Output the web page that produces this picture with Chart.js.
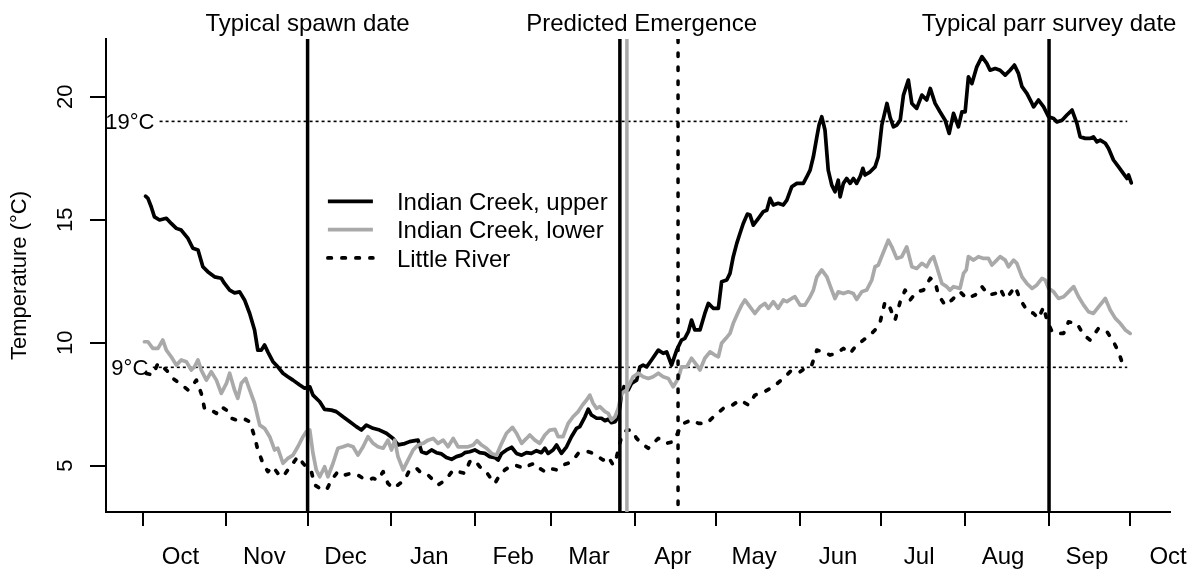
<!DOCTYPE html>
<html>
<head>
<meta charset="utf-8">
<title>Stream temperature, Oct – Sep</title>
<script src="https://cdn.jsdelivr.net/npm/chart.js@4.4.1/dist/chart.umd.min.js"></script>
<style>
  html, body { margin: 0; padding: 0; background: #fff; }
  #wrap { width: 1193px; height: 574px; }
</style>
</head>
<body>
<div id="wrap"><canvas id="chart" width="1193" height="574"></canvas></div>
<script>
// Day 0 = 1 October; each series is a list of [day, temperature °C] pairs.
const upperCreek = [
  [1.1,15.96],[2.0,15.87],[3.2,15.53],[4.4,15.12],[6.3,14.99],[8.8,15.06],[10.6,14.85],[12.5,14.65],[14.3,14.58],[16.8,14.24],
  [18.6,13.84],[20.5,13.77],[22.3,13.09],[24.1,12.89],[26.6,12.68],[29.1,12.62],[30.3,12.41],[32.2,12.14],[34.0,12.03],[35.9,12.07],
  [37.7,11.74],[39.6,11.19],[41.4,10.52],[42.6,9.70],[43.9,9.70],[45.1,9.91],[46.3,9.63],[48.2,9.23],[50.0,9.02],[51.9,8.76],
  [53.7,8.62],[55.6,8.48],[58.1,8.28],[59.9,8.15],[61.8,8.21],[63.0,7.87],[65.5,7.60],[67.3,7.29],[69.8,7.26],[71.6,7.20],
  [74.1,6.99],[76.6,6.79],[79.0,6.59],[80.9,6.45],[82.7,6.65],[85.2,6.52],[87.6,6.45],[90.1,6.32],[92.6,6.11],[94.4,5.85],
  [96.9,5.90],[98.7,5.98],[100.6,6.02],[101.8,6.04],[103.1,5.57],[104.9,5.50],[106.8,5.64],[108.6,5.53],[110.5,5.48],[112.3,5.33],
  [114.2,5.26],[116.0,5.37],[117.9,5.43],[119.1,5.53],[120.9,5.57],[122.8,5.64],[124.6,5.53],[126.5,5.50],[128.3,5.37],[130.2,5.33],
  [131.4,5.23],[132.7,5.50],[134.5,5.64],[136.4,5.75],[138.2,5.50],[140.1,5.43],[141.9,5.53],[143.7,5.50],[145.6,5.61],[147.4,5.53],
  [148.7,5.71],[149.9,5.50],[151.7,5.64],[153.0,5.84],[154.8,5.50],[156.7,5.77],[158.5,6.18],[160.4,6.52],[161.6,6.59],[163.5,6.99],
  [164.7,7.30],[165.9,7.06],[167.8,6.93],[169.6,6.93],[170.9,6.83],[172.1,6.89],[173.3,6.75],[174.6,6.79],[175.8,6.99],[176.4,7.40],
  [177.0,7.94],[177.9,8.21],[179.5,8.08],[180.7,8.35],[182.6,8.48],[183.8,9.02],[185.0,9.09],[186.3,9.02],[188.1,9.30],[190.6,9.70],
  [192.4,9.57],[193.7,9.63],[195.5,9.09],[197.4,9.70],[199.2,10.11],[200.4,10.18],[201.7,10.45],[202.9,10.92],[204.1,10.52],[206.0,10.52],
  [207.8,11.19],[209.1,11.60],[210.9,11.40],[212.8,11.40],[214.0,12.48],[215.9,12.55],[217.1,12.82],[218.3,13.50],[219.6,14.04],[220.8,14.45],
  [222.0,14.85],[223.5,15.23],[224.5,15.19],[225.7,14.78],[227.6,15.06],[229.4,15.33],[230.7,15.39],[231.9,15.87],[233.1,15.60],[234.9,15.67],
  [236.8,15.60],[238.1,15.80],[239.9,16.34],[241.8,16.48],[244.2,16.48],[245.5,16.75],[246.7,17.02],[247.9,17.56],[249.2,18.37],[250.0,18.85],
  [251.0,19.19],[252.2,18.65],[253.4,17.02],[254.7,16.41],[255.9,16.14],[257.1,16.61],[257.8,15.93],[259.0,16.48],[260.2,16.68],[261.5,16.48],
  [262.7,16.68],[263.9,16.48],[265.2,16.75],[266.2,17.09],[267.0,16.82],[268.9,16.95],[270.7,17.15],[271.9,17.56],[273.2,18.85],[275.1,19.73],
  [276.3,19.15],[277.5,18.78],[278.7,18.85],[280.0,19.05],[281.2,20.07],[283.0,20.68],[284.3,19.73],[286.1,19.53],[288.0,20.07],[289.8,19.87],
  [291.1,20.34],[292.9,19.73],[294.7,19.39],[296.6,19.05],[298.1,18.51],[299.7,19.33],[301.5,18.78],[302.8,19.39],[304.0,19.39],[305.2,20.81],
  [306.5,20.54],[308.3,21.22],[310.2,21.63],[312.0,21.36],[313.2,21.08],[315.1,21.15],[316.9,21.08],[318.8,20.88],[320.6,21.08],[322.2,21.29],
  [323.7,20.95],[325.0,20.41],[326.8,20.14],[328.7,19.73],[329.3,19.59],[331.1,19.87],[333.0,19.59],[334.8,19.19],[336.7,19.12],[337.9,18.98],
  [339.8,19.05],[341.6,19.26],[343.5,19.46],[345.3,18.92],[346.5,18.37],[348.4,18.31],[350.2,18.31],[351.4,18.37],[352.7,18.17],[353.9,18.24],
  [355.8,18.11],[357.0,17.90],[358.8,17.43],[360.7,17.15],[362.5,16.88],[363.8,16.68],[364.4,16.82],[365.4,16.50]
];

const lowerCreek = [
  [0.7,10.04],[2.0,10.04],[3.8,9.77],[5.7,9.77],[7.5,10.11],[8.8,9.70],[10.6,9.43],[12.5,9.09],[14.3,9.30],[16.2,9.23],
  [18.0,8.89],[19.2,9.02],[20.5,9.30],[21.7,8.89],[23.6,8.48],[25.4,8.82],[27.3,8.48],[29.1,7.94],[31.0,8.35],[32.2,8.76],
  [34.0,8.08],[35.2,7.74],[36.5,8.35],[38.1,8.55],[39.6,8.08],[41.4,7.54],[43.3,6.65],[45.1,6.52],[47.0,6.18],[48.8,5.64],
  [50.0,5.71],[51.9,5.10],[53.7,5.30],[55.6,5.43],[57.4,5.77],[59.3,6.18],[60.5,6.38],[61.8,6.45],[63.0,5.50],[64.2,4.83],
  [65.5,4.55],[67.3,4.96],[68.5,4.55],[70.4,5.10],[72.2,5.71],[74.1,5.77],[75.9,5.84],[77.8,5.77],[79.6,5.43],[81.5,5.77],
  [83.3,6.18],[85.2,5.91],[87.0,5.77],[88.9,5.71],[90.7,6.04],[92.0,5.64],[93.2,6.04],[94.4,5.37],[96.3,4.83],[98.1,5.23],
  [100.0,5.64],[101.8,5.84],[103.7,5.91],[105.5,6.04],[107.4,6.11],[109.2,5.91],[111.1,6.04],[112.9,5.77],[114.8,6.11],[116.6,5.77],
  [118.5,5.77],[120.3,5.77],[122.2,5.84],[123.6,6.02],[125.3,5.84],[127.1,5.71],[129.0,5.50],[130.8,5.43],[132.7,5.91],[134.5,6.32],
  [136.7,6.56],[138.2,6.32],[140.1,5.91],[141.9,6.11],[143.1,6.25],[145.0,6.04],[146.8,5.91],[148.7,6.25],[150.5,6.45],[152.4,6.48],
  [153.6,6.18],[155.4,6.18],[157.3,6.72],[159.1,6.99],[161.0,7.20],[162.6,7.47],[164.1,7.67],[165.3,7.87],[166.5,7.54],[167.8,7.33],
  [169.0,7.40],[170.9,7.20],[172.1,7.13],[173.3,6.86],[174.6,6.99],[175.8,7.33],[177.0,7.94],[178.9,8.08],[181.3,8.62],[183.2,8.76],
  [185.0,8.62],[186.9,8.55],[188.7,8.62],[190.6,8.76],[192.4,8.62],[194.3,8.55],[196.1,8.21],[198.0,8.55],[199.2,9.02],[201.1,9.02],
  [202.9,9.37],[204.8,9.09],[206.0,8.89],[207.8,9.37],[209.7,9.63],[211.5,9.50],[212.8,9.43],[214.0,9.98],[215.6,10.18],[217.1,10.38],
  [218.3,10.79],[220.2,11.26],[221.4,11.53],[222.6,11.74],[224.5,11.46],[226.3,11.19],[228.2,11.46],[230.0,11.60],[231.3,11.40],[233.1,11.67],
  [234.9,11.40],[236.8,11.74],[238.1,11.67],[239.9,11.80],[241.1,11.87],[243.0,11.53],[244.8,11.53],[246.7,11.87],[247.9,12.14],[249.2,12.68],
  [251.0,12.96],[252.9,12.68],[254.7,12.14],[255.9,11.80],[257.1,12.07],[259.0,12.00],[260.8,12.07],[262.7,12.00],[263.9,11.76],[265.8,12.07],
  [267.6,12.14],[269.5,12.55],[270.7,13.09],[271.9,13.16],[273.6,13.63],[275.6,14.17],[276.9,13.90],[278.7,13.43],[280.6,13.50],[282.4,13.90],
  [284.3,13.09],[286.1,13.02],[288.0,13.23],[289.8,13.09],[291.1,13.36],[292.3,13.50],[293.5,13.09],[295.4,12.41],[297.2,12.28],[298.4,12.14],
  [299.7,12.28],[302.1,12.21],[303.4,12.82],[304.4,12.96],[305.2,13.50],[307.1,13.36],[308.9,13.50],[310.8,13.43],[312.6,13.43],[313.9,13.16],
  [315.7,13.36],[316.9,13.50],[318.8,13.36],[320.0,13.09],[321.9,13.36],[323.1,13.23],[325.0,12.68],[326.8,12.41],[328.7,12.21],[330.5,12.35],
  [332.4,12.62],[333.6,12.55],[334.8,12.21],[336.7,12.07],[338.5,11.80],[340.4,11.87],[342.2,12.07],[344.1,12.28],[345.9,11.87],[347.8,11.53],
  [349.6,11.26],[351.4,11.19],[353.3,11.46],[355.8,11.80],[357.6,11.33],[359.5,10.99],[361.3,10.79],[363.2,10.52],[365.0,10.38]
];

const littleRiver = [
  [1.4,8.75],[3.8,8.69],[5.7,9.16],[7.5,9.02],[9.4,8.82],[11.2,8.55],[13.7,8.35],[16.8,8.08],[18.6,8.28],[19.9,8.48],
  [21.7,7.94],[22.9,7.33],[25.4,7.26],[27.3,7.13],[29.1,7.40],[31.0,7.26],[32.8,6.93],[34.7,6.86],[37.1,6.93],[39.6,6.79],
  [41.4,6.18],[42.6,5.64],[44.5,5.10],[46.3,4.76],[48.2,4.96],[50.0,4.69],[51.9,4.55],[53.7,4.83],[55.6,5.10],[57.4,5.37],
  [59.3,5.10],[60.5,4.96],[62.4,4.76],[63.6,4.22],[65.5,4.08],[68.0,4.01],[69.8,4.42],[72.2,4.76],[74.7,4.62],[77.2,4.69],
  [79.6,4.62],[81.5,4.49],[83.3,4.42],[85.2,4.49],[87.0,4.42],[88.9,4.76],[90.7,4.28],[92.6,4.08],[94.4,4.22],[96.9,4.42],
  [98.7,4.83],[101.2,4.90],[103.1,4.69],[105.5,4.62],[107.4,4.42],[109.2,4.22],[111.1,4.35],[112.9,4.55],[114.8,4.83],[116.6,4.76],
  [119.1,4.69],[120.9,5.16],[122.8,5.23],[124.6,4.96],[126.5,4.83],[128.3,4.55],[130.2,4.28],[132.0,4.62],[133.9,4.83],[135.7,4.96],
  [137.6,5.03],[139.4,4.96],[141.3,4.89],[143.1,5.03],[145.0,5.10],[146.8,4.89],[148.7,4.76],[150.5,4.89],[153.0,4.83],[155.4,5.03],
  [157.3,5.10],[159.1,5.23],[161.0,5.50],[162.8,5.57],[164.7,5.57],[166.5,5.50],[168.4,5.37],[170.2,5.23],[172.1,5.37],[173.9,5.03],
  [175.2,5.37],[175.8,5.64],[177.0,6.18],[178.9,6.45],[180.7,6.45],[182.6,6.11],[184.4,5.91],[186.9,5.71],[188.7,5.91],[190.6,6.11],
  [192.4,6.04],[193.7,5.91],[196.1,5.98],[198.0,6.38],[199.9,6.72],[202.9,6.86],[205.5,6.72],[208.5,6.72],[211.0,6.99],[214.6,7.33],
  [217.1,7.40],[220.8,7.67],[223.9,7.47],[226.3,7.87],[229.9,8.01],[233.1,8.21],[236.8,8.55],[239.9,8.89],[243.0,8.82],[245.5,9.02],
  [247.3,9.09],[249.2,9.70],[251.6,9.63],[254.1,9.50],[256.5,9.57],[259.0,9.77],[261.5,9.57],[263.9,9.91],[266.4,10.11],[268.8,10.31],
  [270.7,10.52],[272.6,10.85],[274.4,11.67],[276.3,11.40],[278.1,10.92],[280.0,11.67],[281.8,12.14],[283.7,11.74],[286.1,12.07],[288.6,12.14],
  [291.1,12.62],[292.9,12.48],[294.1,11.94],[296.6,11.53],[299.1,11.74],[302.1,12.07],[304.6,11.80],[307.7,11.94],[310.2,12.28],[312.6,11.94],
  [315.1,12.00],[316.9,12.21],[318.8,11.80],[320.6,12.00],[322.5,12.28],[324.4,11.74],[326.8,11.33],[329.3,11.19],[331.1,10.99],[333.0,11.46],
  [334.2,10.92],[336.1,10.45],[337.9,10.38],[340.4,10.38],[342.2,10.85],[345.3,10.79],[347.8,10.31],[350.2,10.11],[353.3,10.59],[356.4,10.45],
  [358.8,10.04],[360.7,9.63],[361.9,9.23],[363.2,9.09],[363.8,9.16]
];

// Month axis: tick marks at each 1st, names at each 15th.
const monthNames  = ['Oct','Nov','Dec','Jan','Feb','Mar','Apr','May','Jun','Jul','Aug','Sep','Oct'];
const monthStarts = [0, 31, 61, 92, 123, 151, 182, 212, 243, 273, 304, 335, 365];
const monthMids   = [14, 45, 75, 106, 137, 165, 196, 226, 257, 287, 318, 349, 379];
const tempTicks   = [5, 10, 15, 20];

// Reference temperatures and the days they are drawn across.
const thresholds     = [19, 9];
const thresholdNames = ['19°C', '9°C'];
const thresholdFrom  = [6.3, 3.8];
const thresholdTo    = [363.9, 363.9];

// Key dates (days after 1 October).
const spawnDay = 61;
const parrSurveyDay = 335;
const emergenceUpper = 176.4;
const emergenceLower = 179.0;
const emergenceLittle = 197.9;

const X_MIN = -13.5, X_MAX = 379.7;
const Y_MIN = 3.118, Y_MAX = 22.35;

const FONT = '"Liberation Sans", Arial, Helvetica, sans-serif';
Chart.defaults.font.family = FONT;
Chart.defaults.color = '#000';

const toPoints = pairs => pairs.map(([x, y]) => ({ x, y }));
const vertical = day => [{ x: day, y: Y_MAX }, { x: day, y: Y_MIN }];
const DOTS = [3.5, 10.5];

const seriesStyle = { pointRadius: 0, tension: 0, fill: false, borderJoinStyle: 'round', borderCapStyle: 'round' };

const datasets = [
  { label: 'Indian Creek, upper', data: toPoints(upperCreek), borderColor: '#000', borderWidth: 3.7, order: 3, ...seriesStyle },
  { label: 'Indian Creek, lower', data: toPoints(lowerCreek), borderColor: '#a9a9a9', borderWidth: 3.7, order: 2, ...seriesStyle },
  { label: 'Little River', data: toPoints(littleRiver), borderColor: '#000', borderWidth: 3.7, borderDash: DOTS, order: 1, ...seriesStyle },
];
thresholds.forEach((t, i) => {
  datasets.push({ label: thresholdNames[i], data: [{ x: thresholdFrom[i], y: t }, { x: thresholdTo[i], y: t }],
    borderColor: '#000', borderWidth: 1.6, borderDash: [3, 3], pointRadius: 0, order: 4, borderCapStyle: 'butt' });
});
[
  { day: spawnDay, color: '#000', dash: [] },
  { day: emergenceUpper, color: '#000', dash: [] },
  { day: emergenceLower, color: '#a9a9a9', dash: [] },
  { day: emergenceLittle, color: '#000', dash: DOTS },
  { day: parrSurveyDay, color: '#000', dash: [] },
].forEach(v => {
  datasets.push({ label: 'date', data: vertical(v.day), borderColor: v.color, borderWidth: 3.5,
    borderDash: v.dash, borderCapStyle: v.dash.length ? 'round' : 'butt', pointRadius: 0, order: 0 });
});

const captions = [
  { text: 'Typical spawn date', day: spawnDay },
  { text: 'Predicted Emergence', day: (emergenceUpper + emergenceLower + emergenceLittle) / 3 },
  { text: 'Typical parr survey date', day: parrSurveyDay },
];
const legendAnchor = { day: 68.5, temp: 15.75 };

const overlay = {
  id: 'overlay',
  afterDraw(chart) {
    const { ctx, chartArea, scales: { x, y } } = chart;
    ctx.save();
    ctx.fillStyle = '#000';

    // captions above the date lines
    ctx.font = '24px ' + FONT;
    ctx.textAlign = 'center';
    ctx.textBaseline = 'alphabetic';
    captions.forEach(c => ctx.fillText(c.text, x.getPixelForValue(c.day), chartArea.top - 8.5));

    // threshold labels
    ctx.font = '22px ' + FONT;
    thresholds.forEach((t, i) => {
      ctx.fillText(thresholdNames[i], x.getPixelForValue(-4.7), y.getPixelForValue(t) + 7.9);
    });

    // temperature tick labels, reading upward
    tempTicks.forEach(v => {
      ctx.save();
      ctx.translate(chartArea.left - 34, y.getPixelForValue(v));
      ctx.rotate(-Math.PI / 2);
      ctx.textAlign = 'center';
      ctx.fillText(String(v), 0, 0);
      ctx.restore();
    });

    // legend
    const lx = x.getPixelForValue(legendAnchor.day);
    const ly = y.getPixelForValue(legendAnchor.temp);
    ctx.font = '24px ' + FONT;
    ctx.textAlign = 'left';
    for (let i = 0; i < 3; i++) {
      const ds = chart.data.datasets[i];
      const ry = ly + i * 28.3;
      ctx.beginPath();
      ctx.strokeStyle = ds.borderColor;
      ctx.lineWidth = ds.borderWidth;
      ctx.setLineDash(ds.borderDash || []);
      ctx.lineCap = (ds.borderDash && ds.borderDash.length) ? 'round' : 'butt';
      ctx.moveTo(lx, ry);
      ctx.lineTo(lx + 45, ry);
      ctx.stroke();
      ctx.setLineDash([]);
      ctx.fillText(ds.label, lx + 69, ry + 8.6);
    }
    ctx.restore();
  }
};

new Chart(document.getElementById('chart'), {
  type: 'line',
  data: { datasets },
  options: {
    responsive: false,
    animation: false,
    devicePixelRatio: 1,
    layout: { padding: { top: 39, right: 23, left: 0, bottom: 0 } },
    plugins: { legend: { display: false }, tooltip: { enabled: false } },
    scales: {
      x: {
        type: 'linear',
        min: X_MIN, max: X_MAX,
        afterBuildTicks: s => { s.ticks = monthStarts.concat(monthMids).sort((a, b) => a - b).map(v => ({ value: v })); },
        afterFit: s => { s.height = 62; s.paddingLeft = 0; s.paddingRight = 0; },
        border: { display: true, color: '#000', width: 2 },
        grid: {
          drawOnChartArea: false, drawTicks: true, tickLength: 14, lineWidth: 2,
          color: c => (c.tick && monthStarts.includes(c.tick.value)) ? '#000' : 'rgba(0,0,0,0)'
        },
        ticks: {
          autoSkip: false, maxRotation: 0, minRotation: 0, padding: 17,
          font: { size: 24 }, color: '#000',
          callback: v => { const i = monthMids.indexOf(v); return i >= 0 ? monthNames[i] : ''; }
        }
      },
      y: {
        type: 'linear',
        min: Y_MIN, max: Y_MAX,
        afterBuildTicks: s => { s.ticks = tempTicks.map(v => ({ value: v })); },
        afterFit: s => { s.width = 106; s.paddingTop = 0; s.paddingBottom = 0; },
        border: { display: true, color: '#000', width: 2 },
        grid: { drawOnChartArea: false, drawTicks: true, tickLength: 16, lineWidth: 2, color: '#000' },
        ticks: { display: false },
        title: { display: true, text: 'Temperature (°C)', font: { size: 22 }, color: '#000', padding: { top: 7, bottom: 0 } }
      }
    }
  },
  plugins: [overlay]
});
</script>
</body>
</html>
